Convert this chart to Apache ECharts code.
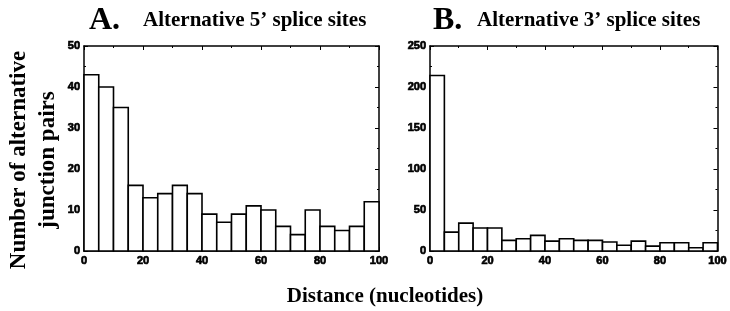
<!DOCTYPE html>
<html>
<head>
<meta charset="utf-8">
<script src="https://cdn.jsdelivr.net/npm/echarts@6/dist/echarts.min.js"></script>
<style>
  html, body { margin: 0; padding: 0; background: #fff; }
  #chart { width: 730px; height: 311px; }
</style>
</head>
<body>
<div id="chart"></div>
<script>
// histogram bins (nucleotides), 5 wide
const binStart = [0, 5, 10, 15, 20, 25, 30, 35, 40, 45, 50, 55, 60, 65, 70, 75, 80, 85, 90, 95];
const binEnd = [5, 10, 15, 20, 25, 30, 35, 40, 45, 50, 55, 60, 65, 70, 75, 80, 85, 90, 95, 100];
const donorCounts = [43, 40, 35, 16, 13, 14, 16, 14, 9, 7, 9, 11, 10, 6, 4, 10, 6, 5, 6, 12];
const acceptorCounts = [214, 23, 34, 28, 28, 13, 15, 19, 12, 15, 13, 13, 11, 7, 12, 6, 10, 10, 4, 10];

const chart = echarts.init(document.getElementById('chart'), null, { renderer: 'canvas' });

const serif = '"Liberation Serif", "Times New Roman", serif';
const tickFont = {
  color: '#000', fontFamily: '"Liberation Sans Narrow", "Liberation Sans", sans-serif',
  fontWeight: 'bold', fontSize: 11, textBorderColor: '#000', textBorderWidth: 0.7
};

function bins(counts) {
  return counts.map(function (c, i) { return [binStart[i], binEnd[i], c]; });
}

function renderBar(params, api) {
  const p0 = api.coord([api.value(0), api.value(2)]);
  const p1 = api.coord([api.value(1), 0]);
  return {
    type: 'rect',
    shape: { x: p0[0], y: p0[1], width: p1[0] - p0[0], height: p1[1] - p0[1] },
    style: { fill: '#fff', stroke: '#000', lineWidth: 1.6 }
  };
}

function axisBase(grid) {
  return {
    gridIndex: grid, type: 'value',
    splitLine: { show: false },
    axisLine: { show: true, onZero: false, lineStyle: { color: '#000', width: 1.5 } },
    axisTick: { inside: true, length: 4, lineStyle: { color: '#000' } },
    minorTick: { show: true, splitNumber: 2, length: 2, lineStyle: { color: '#000' } }
  };
}

function xAxes(grid) {
  const base = Object.assign(axisBase(grid), { min: 0, max: 100, interval: 20 });
  return [
    Object.assign({}, base, { position: 'bottom', axisLabel: Object.assign({ margin: 4 }, tickFont) }),
    Object.assign({}, base, { position: 'top', axisLabel: { show: false } })
  ];
}

function yAxes(grid, max, interval) {
  const base = Object.assign(axisBase(grid), { min: 0, max: max, interval: interval });
  return [
    Object.assign({}, base, { position: 'left', axisLabel: Object.assign({ margin: 4 }, tickFont) }),
    Object.assign({}, base, { position: 'right', axisLabel: { show: false } })
  ];
}

const option = {
  animation: false,
  backgroundColor: '#fff',
  grid: [
    { left: 84, right: 351, top: 46, bottom: 60 },
    { left: 430, right: 8, top: 46, bottom: 60 }
  ],
  xAxis: xAxes(0).concat(xAxes(1)),
  yAxis: yAxes(0, 50, 10).concat(yAxes(1, 250, 50)),
  series: [
    { type: 'custom', xAxisIndex: 0, yAxisIndex: 0, renderItem: renderBar, data: bins(donorCounts) },
    { type: 'custom', xAxisIndex: 2, yAxisIndex: 2, renderItem: renderBar, data: bins(acceptorCounts) }
  ],
  graphic: [
    { type: 'text', left: 89, top: 5, style: { text: 'A.', font: 'bold 32px ' + serif, fill: '#000' } },
    { type: 'text', left: 143, top: 10, style: { text: 'Alternative 5’ splice sites', font: 'bold 21px ' + serif, fill: '#000' } },
    { type: 'text', left: 433, top: 5, style: { text: 'B.', font: 'bold 32px ' + serif, fill: '#000' } },
    { type: 'text', left: 477, top: 10, style: { text: 'Alternative 3’ splice sites', font: 'bold 21px ' + serif, fill: '#000' } },
    {
      type: 'text', x: 34, y: 160, rotation: Math.PI / 2,
      style: {
        text: 'Number of alternative\njunction pairs', font: 'bold 23px ' + serif, fill: '#000',
        align: 'center', verticalAlign: 'middle', lineHeight: 29
      }
    },
    {
      type: 'text', x: 385, y: 297,
      style: { text: 'Distance (nucleotides)', font: 'bold 21px ' + serif, fill: '#000', align: 'center', verticalAlign: 'middle' }
    }
  ]
};

chart.setOption(option);
</script>
</body>
</html>
